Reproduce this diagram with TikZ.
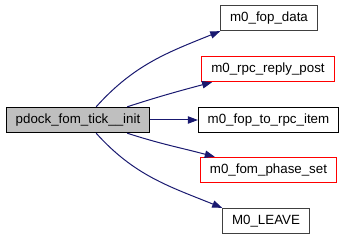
\documentclass[tikz,border=0pt]{standalone}
\usepackage{fontspec}
\setmainfont{Liberation Sans}
\usepackage{tikz}
\usetikzlibrary{arrows.meta}
\usepackage{xcolor}
\definecolor{edgeblue}{HTML}{191970}
\definecolor{rootfill}{HTML}{BFBFBF}
\definecolor{docgray}{HTML}{404040}
\definecolor{linkred}{HTML}{FF0000}

\begin{document}
\begin{tikzpicture}[x=0.75pt,y=0.75pt,
  fn/.style={draw=black, fill=white, line width=0.75pt, minimum height=19pt,
    inner xsep=7pt, inner ysep=0pt, font=\fontsize{10}{12}\selectfont},
  root/.style={fn, fill=rootfill},
  doc/.style={fn, draw=docgray},
  ext/.style={fn, draw=linkred},
  call/.style={draw=edgeblue, line width=0.75pt, -{Triangle[length=7.5pt,width=5.5pt]}}]
  \useasboundingbox (0,0) rectangle (344,240);
  % caller on the left, callees stacked on the right
  \node[root] (tick) at (78,120) {pdock\_fom\_tick\_\_init};
  \node[doc] (fopdata) at (269,222) {m0\_fop\_data};
  \node[ext] (replypost) at (268,171) {m0\_rpc\_reply\_post};
  \node[fn] (torpc) at (268.5,120) {m0\_fop\_to\_rpc\_item};
  \node[ext] (phaseset) at (268.5,70) {m0\_fom\_phase\_set};
  \node[doc] (leave) at (266,19) {M0\_LEAVE};
  \draw[call] (tick.36) to[out=48,in=202] (fopdata.south west);
  \draw[call] (tick.15) to[out=18,in=195] ([xshift=8pt]replypost.south west);
  \draw[call] (tick) -- (torpc);
  \draw[call] (tick.-15) to[out=-18,in=165] ([xshift=11pt]phaseset.north west);
  \draw[call] (tick.-36) to[out=-48,in=158] (leave.north west);
\end{tikzpicture}
\end{document}
